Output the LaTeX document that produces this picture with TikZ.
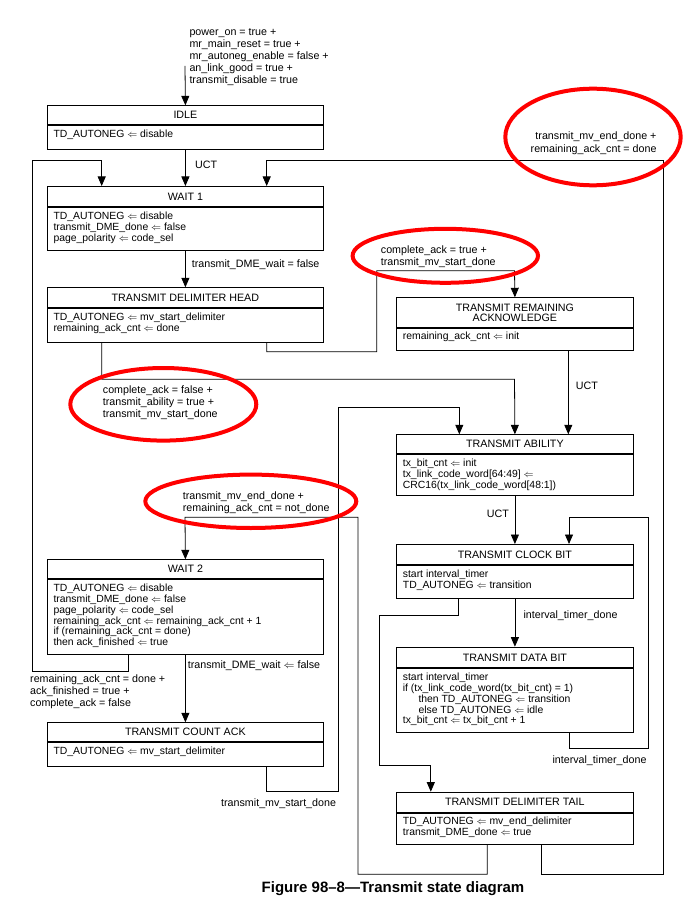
\documentclass[tikz,border=0pt]{standalone}
\usepackage{fontspec}
\setmainfont{Liberation Sans}
\usetikzlibrary{arrows.meta}
\usetikzlibrary{positioning}
\newcommand{\assign}{\ensuremath{\Leftarrow}}
\tikzset{x=1pt, y=-1pt,
every node/.style={font=\fontsize{10.7}{10.7}\selectfont, inner sep=0pt},
head/.style={ % title part of a state
draw, line width=0.8pt, anchor=north west, align=center},
body/.style={ % action part of a state
draw, line width=0.8pt, anchor=north west},
left box/.style={minimum width=276.6pt},
right box/.style={minimum width=237.6pt},
acts/.style={ % text of the actions
anchor=north west, align=left, font=\fontsize{10.4}{10.75}\selectfont},
cond/.style={ % conditions on transitions
anchor=north west, align=left, font=\fontsize{10.7}{12.1}\selectfont},
trans/.style={ % transitions
draw, line width=0.8pt, -{Triangle[width=8pt,length=9.5pt]}},
redring/.style={draw=red, line width=4pt}}

\begin{document}
\begin{tikzpicture}
\path[use as bounding box, fill=white] (0,0) rectangle (693,909);

% left column
\node[head, left box, minimum height=19pt] (idle) at (46.7,105.3) {IDLE};
\node[body, left box, minimum height=23.7pt] (idle-b) at (idle.south west) {};
\node[acts] at ([shift={(6.6pt,-5pt)}]idle-b.north west) {TD\_AUTONEG \assign{} disable};

\node[head, left box, minimum height=20pt] (wait1) at (46.7,186) {WAIT 1};
\node[body, left box, minimum height=43pt] (wait1-b) at (wait1.south west) {};
\node[acts] at ([shift={(6.6pt,-5pt)}]wait1-b.north west) {TD\_AUTONEG \assign{} disable\\transmit\_DME\_done \assign{} false\\page\_polarity \assign{} code\_sel};

\node[head, left box, minimum height=19.7pt] (tdh) at (46.7,287.3) {TRANSMIT DELIMITER HEAD};
\node[body, left box, minimum height=34pt] (tdh-b) at (tdh.south west) {};
\node[acts] at ([shift={(6.6pt,-5pt)}]tdh-b.north west) {TD\_AUTONEG \assign{} mv\_start\_delimiter\\remaining\_ack\_cnt \assign{} done};

\node[head, left box, minimum height=19pt] (wait2) at (46.7,559.3) {WAIT 2};
\node[body, left box, minimum height=75pt] (wait2-b) at (wait2.south west) {};
\node[acts] at ([shift={(6.6pt,-5pt)}]wait2-b.north west) {TD\_AUTONEG \assign{} disable\\transmit\_DME\_done \assign{} false\\page\_polarity \assign{} code\_sel\\remaining\_ack\_cnt \assign{} remaining\_ack\_cnt + 1\\if (remaining\_ack\_cnt = done)\\then ack\_finished \assign{} true};

\node[head, left box, minimum height=19pt] (tca) at (46.7,722.3) {TRANSMIT COUNT ACK};
\node[body, left box, minimum height=23.7pt] (tca-b) at (tca.south west) {};
\node[acts] at ([shift={(6.6pt,-5pt)}]tca-b.north west) {TD\_AUTONEG \assign{} mv\_start\_delimiter};

% right column
\node[head, right box, minimum height=30pt] (tra) at (395.7,297.3) {TRANSMIT REMAINING\\ACKNOWLEDGE};
\node[body, right box, minimum height=21.4pt] (tra-b) at (tra.south west) {};
\node[acts] at ([shift={(7pt,-4pt)}]tra-b.north west) {remaining\_ack\_cnt \assign{} init};

\node[head, right box, minimum height=19pt] (ta) at (395.7,434.3) {TRANSMIT ABILITY};
\node[body, right box, minimum height=41pt] (ta-b) at (ta.south west) {};
\node[acts] at ([shift={(7pt,-5pt)}]ta-b.north west) {tx\_bit\_cnt \assign{} init\\tx\_link\_code\_word[64:49] \assign{}\\CRC16(tx\_link\_code\_word[48:1])};

\node[head, right box, minimum height=20.3pt] (tcb) at (395.7,544) {TRANSMIT CLOCK BIT};
\node[body, right box, minimum height=32.4pt] (tcb-b) at (tcb.south west) {};
\node[acts] at ([shift={(7pt,-5pt)}]tcb-b.north west) {start interval\_timer\\TD\_AUTONEG \assign{} transition};

\node[head, right box, minimum height=20.6pt] (tdb) at (395.7,646.7) {TRANSMIT DATA BIT};
\node[body, right box, minimum height=63.7pt] (tdb-b) at (tdb.south west) {};
\node[acts] at ([shift={(7pt,-5pt)}]tdb-b.north west) {start interval\_timer\\if (tx\_link\_code\_word(tx\_bit\_cnt) = 1)\\\hspace*{15.6pt}then TD\_AUTONEG \assign{} transition\\\hspace*{15.6pt}else TD\_AUTONEG \assign{} idle\\tx\_bit\_cnt \assign{} tx\_bit\_cnt + 1};

\node[head, right box, minimum height=20pt] (tdt) at (395.7,791.7) {TRANSMIT DELIMITER TAIL};
\node[body, right box, minimum height=31.6pt] (tdt-b) at (tdt.south west) {};
\node[acts] at ([shift={(7pt,-4.5pt)}]tdt-b.north west) {TD\_AUTONEG \assign{} mv\_end\_delimiter\\transmit\_DME\_done \assign{} true};

% transitions
\coordinate (init) at (185,66);
\draw[trans] (init) -- (idle.north);
\node[cond] at (189.3,28.3) {power\_on = true +\\mr\_main\_reset = true +\\mr\_autoneg\_enable = false +\\an\_link\_good = true +\\transmit\_disable = true};

\draw[trans] (idle-b.south) -- (wait1.north);
\node[cond] at (195,161) {UCT};

\draw[trans] (wait1-b.south) -- (tdh.north);
\node[cond] at (191.7,259.3) {transmit\_DME\_wait = false};

\draw[trans] (wait2-b.south -| 128.3,0) -- (128.3,671.7) -- (32.3,671.7) -- (32.3,160) -- (101.7,160) -- (wait1.north -| 101.7,0);
\node[cond] at (30,674.3) {remaining\_ack\_cnt = done +\\ack\_finished = true +\\complete\_ack = false};

\draw[trans] (tdt-b.south -| 541.7,0) -- (541.7,874.3) -- (663.3,874.3) -- (663.3,160) -- (266.7,160) -- (wait1.north -| 266.7,0);
\node[cond, anchor=north east, align=right] at (656.7,132) {transmit\_mv\_end\_done +\\remaining\_ack\_cnt = done};

\draw[trans] (tdh-b.south -| 266.7,0) -- (266.7,351.7) -- (376.7,351.7) -- (376.7,270.7) -- (514.5,270.7) -- (tra.north);
\node[cond] at (380.7,245.3) {complete\_ack = true +\\transmit\_mv\_start\_done};

\draw[trans] (tdh-b.south -| 101.7,0) -- (101.7,379.3) -- (514.5,379.3) -- (ta.north);
\node[cond] at (102.7,385.3) {complete\_ack = false +\\transmit\_ability = true +\\transmit\_mv\_start\_done};

\draw[trans] (tra-b.south -| 568.3,0) -- (ta.north -| 568.3,0);
\node[cond] at (575.7,382) {UCT};

\draw[trans] (tca-b.south -| 266.7,0) -- (266.7,791) -- (338.3,791) -- (338.3,407.5) -- (459.3,407.5) -- (ta.north -| 459.3,0);
\node[cond] at (221,798.3) {transmit\_mv\_start\_done};

\draw[trans] (ta-b.south) -- (tcb.north);
\node[cond, anchor=north east] at (509,510) {UCT};

\draw[trans] (tcb-b.south) -- (tdb.north);
\node[cond] at (523.3,611) {interval\_timer\_done};

\draw[trans] (tdb-b.south -| 569,0) -- (569,748.7) -- (648.3,748.7) -- (648.3,517.3) -- (569,517.3) -- (tcb.north -| 569,0);
\node[cond] at (552.3,755.3) {interval\_timer\_done};

\draw[trans] (tcb-b.south -| 458.3,0) -- (458.3,615.7) -- (379.3,615.7) -- (379.3,765.5) -- (430.8,765.5) -- (tdt.north -| 430.8,0);

\draw[trans] (tdt-b.south -| 487.3,0) -- (487.3,874.3) -- (358,874.3) -- (358,517.3) -- (185,517.3) -- (wait2.north);
\node[cond] at (182.7,491.7) {transmit\_mv\_end\_done +\\remaining\_ack\_cnt = not\_done};

\draw[trans] (wait2-b.south) -- (tca.north);
\node[cond] at (187.7,661) {transmit\_DME\_wait \assign{} false};

% red marks
\draw[redring] (163.3,404.3) ellipse [x radius=93, y radius=36.3];
\draw[redring] (250.8,501.3) ellipse [x radius=105.5, y radius=26.7];
\draw[redring] (593,137) ellipse [x radius=87.7, y radius=48.3];
\draw[redring] (445.3,255.8) ellipse [x radius=92.7, y radius=27];

\node[font=\fontsize{15}{18}\selectfont\bfseries, anchor=base] (caption) at (393,892) {Figure 98--8---Transmit state diagram};
\end{tikzpicture}
\end{document}
